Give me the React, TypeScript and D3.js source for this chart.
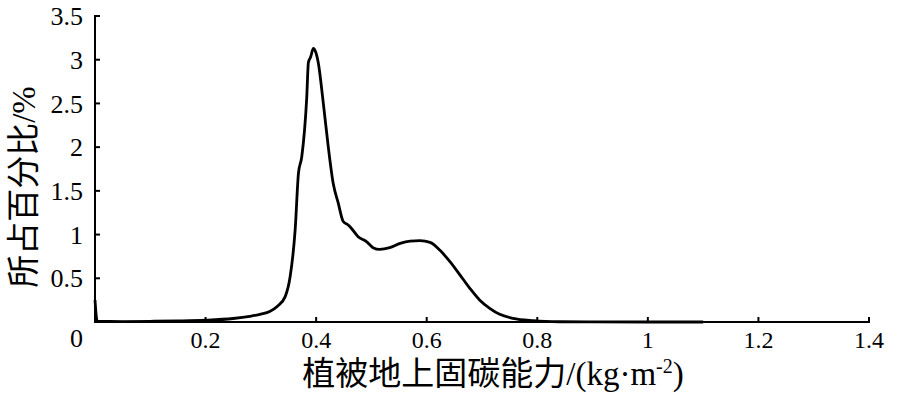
import React from "react";
import * as d3 from "d3";

const xVals = [0, 0.004, 0.05, 0.1, 0.15, 0.2, 0.25, 0.28, 0.3, 0.316, 0.33, 0.344, 0.353, 0.362, 0.368, 0.374, 0.383, 0.386, 0.39, 0.395, 0.399, 0.404, 0.413, 0.422, 0.431, 0.44, 0.449, 0.458, 0.464, 0.476, 0.491, 0.503, 0.515, 0.533, 0.552, 0.57, 0.588, 0.606, 0.624, 0.642, 0.66, 0.678, 0.696, 0.714, 0.732, 0.756, 0.793, 0.84, 0.9, 1.0, 1.1];
const yVals = [0.25, 0.01, 0.005, 0.008, 0.012, 0.02, 0.04, 0.065, 0.09, 0.12, 0.18, 0.29, 0.52, 1.05, 1.7, 1.89, 2.57, 2.97, 3.03, 3.13, 3.09, 2.96, 2.5, 2.0, 1.58, 1.36, 1.15, 1.11, 1.07, 0.975, 0.92, 0.85, 0.83, 0.85, 0.9, 0.925, 0.93, 0.91, 0.82, 0.69, 0.54, 0.385, 0.25, 0.157, 0.088, 0.042, 0.015, 0.003, 0.001, 0, 0];

const xTicks = [0.2, 0.4, 0.6, 0.8, 1, 1.2, 1.4];
const yTicks = [0.5, 1, 1.5, 2, 2.5, 3, 3.5];
const xTitle = "植被地上固碳能力/(kg·m";
const yTitle = "所占百分比/%";

const W = 898;
const H = 395;
const FONT = "'Liberation Serif', 'Noto Sans CJK SC', serif";

export default function App() {
  const x = d3.scaleLinear().domain([0, 1.4]).range([95, 869]);
  const y = d3.scaleLinear().domain([0, 3.5]).range([322, 16]);
  const pts: [number, number][] = xVals.map((v, i) => [v, yVals[i]]);
  const line = d3
    .line<[number, number]>()
    .x((d) => x(d[0]))
    .y((d) => y(d[1]))
    .curve(d3.curveMonotoneX);

  return (
    <svg
      width={W}
      height={H}
      style={{ position: "absolute", left: 0, top: 0, background: "#fff" }}
      fontFamily={FONT}
    >
      <rect x={0} y={0} width={W} height={H} fill="#fff" />
      <path d={line(pts) || ""} fill="none" stroke="#000" strokeWidth={2.8} strokeLinejoin="round" />
      {/* axes */}
      <line x1={x(0)} x2={x(0)} y1={y(3.5) - 1} y2={y(0) + 1} stroke="#000" strokeWidth={2} />
      <line x1={x(0) - 1} x2={x(1.4) + 1} y1={y(0)} y2={y(0)} stroke="#000" strokeWidth={2} />
      {yTicks.map((t) => (
        <g key={"y" + t}>
          <line x1={x(0)} x2={x(0) + 5} y1={y(t)} y2={y(t)} stroke="#000" strokeWidth={2} />
          <text x={83} y={y(t)} dy="0.35em" textAnchor="end" fontSize={26} fill="#000">
            {String(t)}
          </text>
        </g>
      ))}
      {xTicks.map((t) => (
        <g key={"x" + t}>
          <line x1={x(t)} x2={x(t)} y1={y(0)} y2={y(0) - 5} stroke="#000" strokeWidth={2} />
          <text x={x(t)} y={348} textAnchor="middle" fontSize={24} fill="#000">
            {String(t)}
          </text>
        </g>
      ))}
      <text x={83} y={347} textAnchor="end" fontSize={26} fill="#000">
        0
      </text>
      <text x={493} y={385} textAnchor="middle" fontSize={33} fill="#000">
        {xTitle}
        <tspan fontSize={20} dy={-12}>-2</tspan>
        <tspan dy={12}>)</tspan>
      </text>
      <text
        transform={`translate(35,187) rotate(-90)`}
        textAnchor="middle"
        fontSize={33}
        fill="#000"
      >
        {yTitle}
      </text>
    </svg>
  );
}
